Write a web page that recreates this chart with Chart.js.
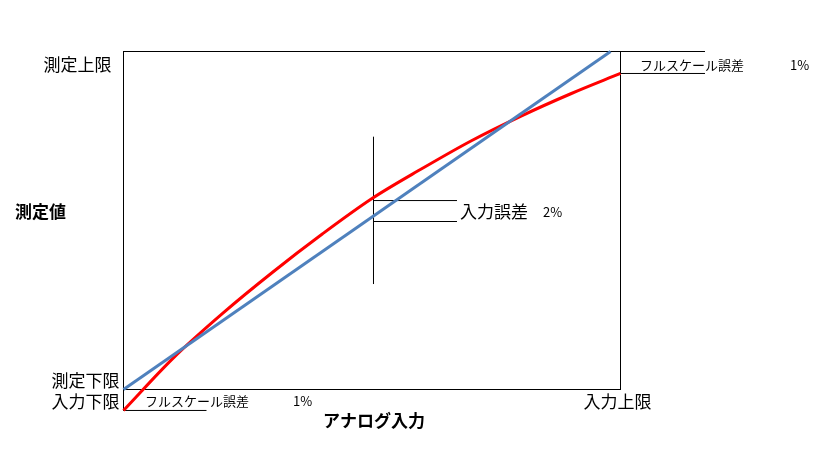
<!DOCTYPE html>
<html>
<head>
<meta charset="utf-8">
<script src="https://cdn.jsdelivr.net/npm/chart.js@4.4.1/dist/chart.umd.min.js"></script>
<style>
  body { margin: 0; background: #fff; }
</style>
</head>
<body>
<canvas id="grafico" width="823" height="458"></canvas>
<script>
// アナログ入力 (0 = 入力下限, 100 = 入力上限)
const entrada = [0, 10, 20, 30, 40, 50, 60, 70, 80, 90, 100];
// 測定値 (0 = 測定下限, 100 = 測定上限)
const medido = [-6.2, 9.3, 22.6, 34.7, 46, 56.5, 65.3, 73.6, 80.9, 87.5, 93.5];
// ideal line
const idealX = [0, 98];
const idealY = [0, 100];

const labelsY = ["測定下限", "測定上限"];
const labelsX = ["入力下限", "入力上限"];
const tituloY = "測定値";
const tituloX = "アナログ入力";
const erroFS = "フルスケール誤差";
const erroFSValor = "1%";
const erroEntrada = "入力誤差";
const erroEntradaValor = "2%";

// brackets (data units)
const fsTopoY = [100, 93.5];
const fsTopoX = [100, 117];
const fsBaseY = [0, -6.2];
const fsBaseX = [0, 16.7];
const entradaX = 50.3;
const entradaVertY = [31.2, 74.8];
const entradaHorY = [55.9, 49.7];
const entradaHorX = [50.3, 67.1];

function pares(xs, ys) {
  return xs.map((x, i) => ({ x: x, y: ys[i] }));
}

function linhaPreta(pts) {
  return {
    data: pts,
    borderColor: "#000",
    borderWidth: 1,
    pointRadius: 0,
    clip: false,
    tension: 0,
  };
}

const dsLinhas = [];
fsTopoY.forEach((y) => dsLinhas.push(linhaPreta(pares(fsTopoX, [y, y]))));
dsLinhas.push(linhaPreta(pares(fsBaseX, [fsBaseY[1], fsBaseY[1]])));
dsLinhas.push(linhaPreta(pares([0, 0], [0, fsBaseY[1]])));
dsLinhas.push(linhaPreta(pares([entradaX, entradaX], entradaVertY)));
entradaHorY.forEach((y) => dsLinhas.push(linhaPreta(pares(entradaHorX, [y, y]))));

const moldura = {
  id: "moldura",
  beforeDatasetsDraw(chart) {
    const a = chart.chartArea;
    const ctx = chart.ctx;
    ctx.save();
    ctx.strokeStyle = "#000";
    ctx.lineWidth = 1;
    ctx.strokeRect(a.left, a.top, a.right - a.left, a.bottom - a.top);
    ctx.restore();
  },
  afterDatasetsDraw(chart) {
    const ctx = chart.ctx;
    const sx = chart.scales.x;
    const sy = chart.scales.y;
    const f = '"Noto Sans CJK JP", sans-serif';
    ctx.save();
    ctx.fillStyle = "#000";
    ctx.textBaseline = "middle";

    ctx.font = "17px " + f;
    ctx.textAlign = "right";
    ctx.fillText(labelsY[1], sx.getPixelForValue(0) - 12, sy.getPixelForValue(100) + 13);
    ctx.fillText(labelsY[0], sx.getPixelForValue(0) - 4, sy.getPixelForValue(0) - 9);
    ctx.fillText(labelsX[0], sx.getPixelForValue(0) - 4, sy.getPixelForValue(fsBaseY[1]) - 9);
    ctx.textAlign = "center";
    ctx.fillText(labelsX[1], sx.getPixelForValue(100) - 3, sy.getPixelForValue(fsBaseY[1]) - 9);
    ctx.textAlign = "left";
    ctx.fillText(erroEntrada, sx.getPixelForValue(entradaHorX[1]) + 3, 212);

    ctx.font = "13px " + f;
    ctx.fillText(erroEntradaValor, 543, 212);
    ctx.fillText(erroFS, 640, 65);
    ctx.fillText(erroFSValor, 790, 65);
    ctx.fillText(erroFS, 145, 401);
    ctx.fillText(erroFSValor, 293, 401);

    ctx.font = "bold 17px " + f;
    ctx.fillText(tituloY, 15, 212);
    ctx.textAlign = "center";
    ctx.fillText(tituloX, 374, 421);
    ctx.restore();
  },
};

const ctx = document.getElementById("grafico").getContext("2d");
let myChart = new Chart(ctx, {
  type: "line",
  data: {
    datasets: [
      {
        label: "理想",
        data: pares(idealX, idealY),
        borderColor: "#4F81BD",
        borderWidth: 3,
        pointRadius: 0,
        clip: false,
      },
      {
        label: "測定値",
        data: pares(entrada, medido),
        borderColor: "#FF0000",
        borderWidth: 3,
        pointRadius: 0,
        cubicInterpolationMode: "monotone",
        clip: false,
      },
    ].concat(dsLinhas),
  },
  plugins: [moldura],
  options: {
    responsive: false,
    animation: false,
    layout: { padding: { left: 123.5, right: 202.5, top: 51.5, bottom: 68.5 } },
    plugins: { legend: { display: false }, tooltip: { enabled: false } },
    scales: {
      x: { type: "linear", min: 0, max: 100, display: false },
      y: { type: "linear", min: 0, max: 100, display: false },
    },
  },
});
</script>
</body>
</html>
